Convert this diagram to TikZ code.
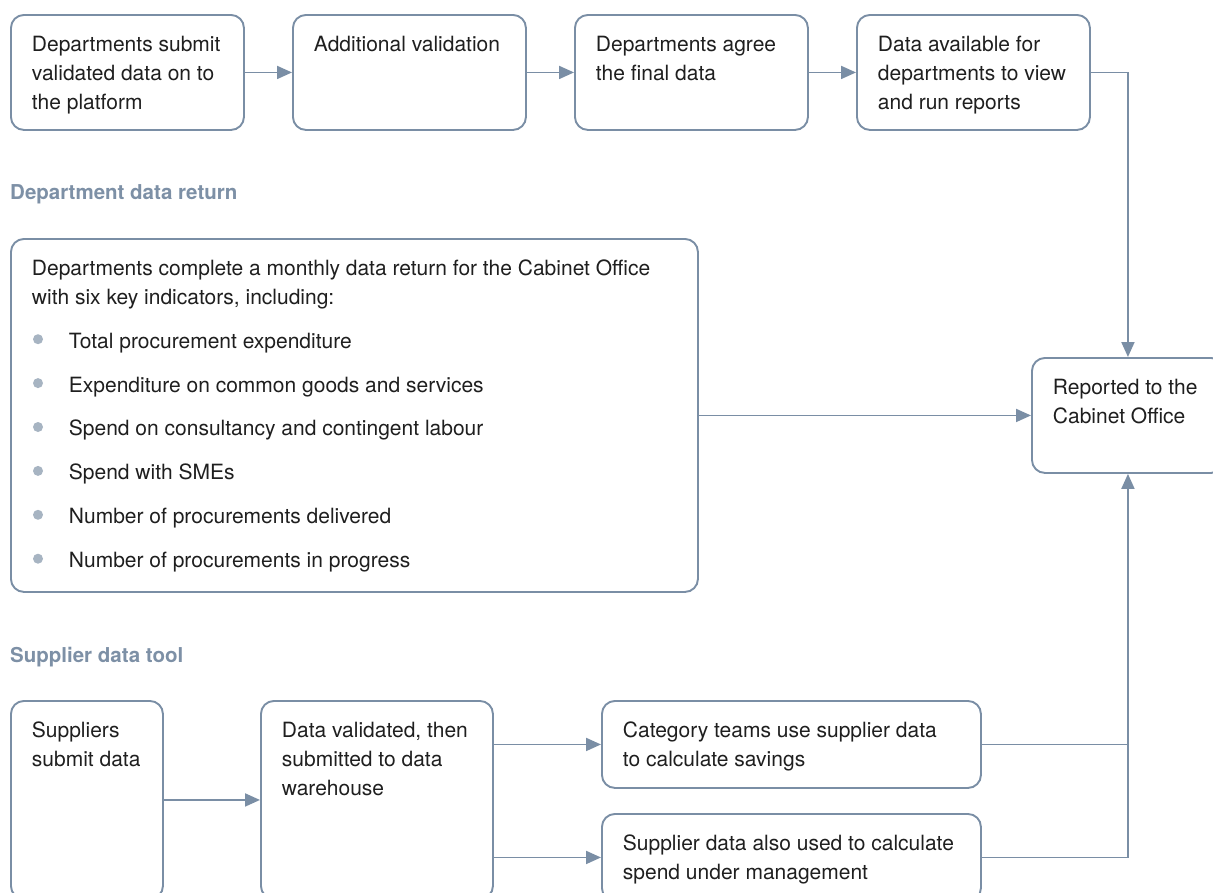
\documentclass[tikz,border=0pt]{standalone}
\usepackage{fontspec}
\setmainfont{TeX Gyre Heros}
\usepackage{xcolor}
\usetikzlibrary{arrows.meta,positioning}

\definecolor{linegrey}{HTML}{7A8EA5}
\definecolor{headgrey}{HTML}{7D90A6}
\definecolor{bulletgrey}{HTML}{A7B4C2}

% text block of a box: width, height, text
\newcommand{\boxtext}[3]{\parbox[c][#2pt][t]{#1pt}{\leftskip=21pt\rightskip=0pt plus 1fil\parindent=0pt\vspace*{16pt}\strut#3}}

\begin{document}
\begin{tikzpicture}[x=1pt,y=-1pt,
      stage/.style={draw=linegrey, line width=1.9pt, rounded corners=13pt,
        anchor=north west, inner sep=0pt, text=black!88,
        font=\fontsize{21}{29}\selectfont},
      flow/.style={draw=linegrey, line width=1.9pt,
        -{Triangle[length=15pt,width=13pt]}},
      link/.style={draw=linegrey, line width=1.9pt},
      heading/.style={anchor=base west, inner sep=0pt, text=headgrey,
        font=\fontsize{20.5}{24}\selectfont\bfseries}]
      \useasboundingbox (0,0) rectangle (1213,892);
      \clip (0,0) rectangle (1213,892);
      \fill[white] (0,0) rectangle (1213,892);

      % monthly platform
      \node[stage] (submit) at (10,14) {\boxtext{233}{115}{Departments submit\\validated data on to\\the platform}};
      \node[stage] (extra) at (292,14) {\boxtext{233}{115}{Additional validation}};
      \node[stage] (agree) at (574,14) {\boxtext{233}{115}{Departments agree\\the final data}};
      \node[stage] (view) at (856,14) {\boxtext{233}{115}{Data available for\\departments to view\\and run reports}};
      \node[stage] (report) at (1031,357) {\boxtext{192}{115}{Reported to the\\Cabinet Office}};

      % department data return
      \node[heading] (depthead) at (10,199) {Department data return};
      \node[stage] (dept) at (10,238) {\boxtext{687}{353}{Departments complete a monthly data return for the Cabinet Office\\
        with six key indicators, including:\\[14.9pt]
        \hspace*{37pt}Total procurement expenditure\\[14.9pt]
        \hspace*{37pt}Expenditure on common goods and services\\[14.9pt]
        \hspace*{37pt}Spend on consultancy and contingent labour\\[14.9pt]
        \hspace*{37pt}Spend with SMEs\\[14.9pt]
        \hspace*{37pt}Number of procurements delivered\\[14.9pt]
        \hspace*{37pt}Number of procurements in progress}};
      \foreach \k in {0,...,5}
        \fill[bulletgrey] ([shift={(28,101.2+43.9*\k)}]dept.north west) circle (5pt);

      % supplier data tool
      \node[heading] (supphead) at (10,662) {Supplier data tool};
      \node[stage] (supply) at (10,700) {\boxtext{152}{198}{Suppliers\\submit data}};
      \node[stage] (valid) at (260,700) {\boxtext{232}{198}{Data validated, then\\submitted to data\\warehouse}};
      \node[stage] (savings) at (601,700) {\boxtext{379}{87}{Category teams use supplier data\\to calculate savings}};
      \node[stage] (spend) at (601,813) {\boxtext{379}{87}{Supplier data also used to calculate\\spend under management}};

      \draw[flow] (submit) -- (extra);
      \draw[flow] (extra) -- (agree);
      \draw[flow] (agree) -- (view);
      \draw[flow] (view.east) -| (report.north);
      \draw[flow] (dept) -- (report);
      \draw[flow] (supply) -- (valid);
      \draw[flow] (valid.east |- savings.west) -- (savings.west);
      \draw[flow] (valid.east |- spend.west) -- (spend.west);
      \draw[link] (savings.east) -- (savings.east -| report.south);
      \draw[flow] (spend.east) -| (report.south);
    \end{tikzpicture}
\end{document}
